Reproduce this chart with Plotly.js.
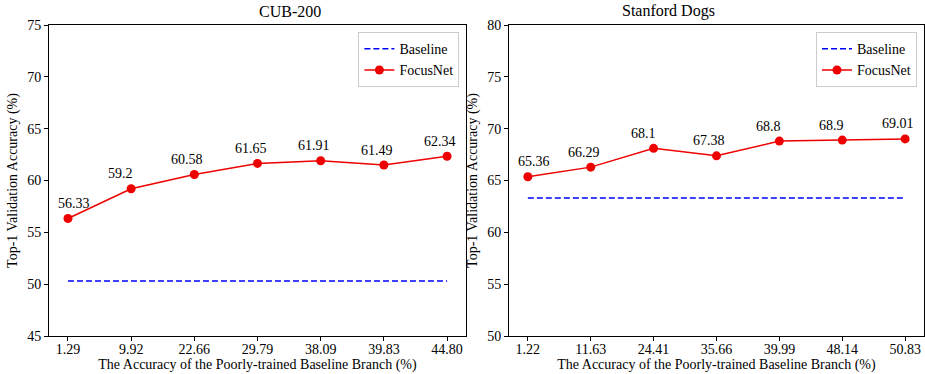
<!DOCTYPE html>
<html><head><meta charset="utf-8">
<script src="https://cdn.plot.ly/plotly-3.0.1.min.js"></script>
<style>body{margin:0;padding:0;background:#fff}#c{width:925px;height:374px}</style>
</head><body><div id="c"></div>
<script>
const cubX = ["1.29","9.92","22.66","29.79","38.09","39.83","44.80"];
const cubFocus = [56.33,59.2,60.58,61.65,61.91,61.49,62.34];
const cubBaseline = 50.3;
const dogX = ["1.22","11.63","24.41","35.66","39.99","48.14","50.83"];
const dogFocus = [65.36,66.29,68.1,67.38,68.8,68.9,69.01];
const dogBaseline = 63.3;
const titles = ["CUB-200","Stanford Dogs"];
const xTitle = "The Accuracy of the Poorly-trained Baseline Branch (%)";
const yTitle = "Top-1 Validation Accuracy (%)";

const F = "Liberation Serif, Times New Roman, serif";
const traces = [];
const annotations = [];
function addPanel(xs, vals, base, xa, ya, leg){
  traces.push({x: xs, y: xs.map(()=>base), xaxis: xa, yaxis: ya, mode:'lines', name:'Baseline',
    line:{color:'#0000ff', dash:'6px,3px', width:1.5}, legend: leg});
  traces.push({x: xs, y: vals, xaxis: xa, yaxis: ya, mode:'lines+markers', name:'FocusNet',
    line:{color:'#ee0000', width:1.5}, marker:{color:'#ee0000', size:9}, legend: leg});
  xs.forEach((c,i)=>{
    annotations.push({x:i, y:vals[i], xref: xa, yref: ya, text:String(vals[i]), showarrow:false,
      xanchor:'left', xshift: i===0 ? -12 : -25, yshift:15, font:{family:F, size:14, color:'#000'}});
  });
}
addPanel(cubX, cubFocus, cubBaseline, 'x', 'y', 'legend');
addPanel(dogX, dogFocus, dogBaseline, 'x2', 'y2', 'legend2');

titles.forEach((t,i)=>{
  annotations.push({text:t, xref:'paper', yref:'paper', x: i===0 ? 0.238 : 0.763,
    y: 1.0, yshift:3, yanchor:'bottom', showarrow:false, font:{family:F, size:16, color:'#000'}});
});

function xax(dom){
  return {domain: dom, type:'category', range:[-0.3,6.3], showline:true, mirror:true, linecolor:'#000', linewidth:1,
    ticks:'outside', ticklen:4, tickcolor:'#000', showgrid:false, zeroline:false, ticklabelstandoff:-4,
    tickfont:{family:F, size:14, color:'#000'},
    title:{text:xTitle, font:{family:F, size:14, color:'#000'}, standoff:2}};
}
function yax(r, anchor){
  return {domain:[0,1], range:r, dtick:5, anchor: anchor, showline:true, mirror:true, linecolor:'#000', linewidth:1,
    ticks:'outside', ticklen:4, tickcolor:'#000', showgrid:false, zeroline:false,
    tickfont:{family:F, size:14, color:'#000'},
    title:{text:yTitle, font:{family:F, size:14, color:'#000'}, standoff:6}};
}
const legStyle = (x)=>({x:x, y:0.977, xanchor:'right', yanchor:'top', bgcolor:'rgba(255,255,255,0.8)',
  bordercolor:'#cccccc', borderwidth:1, font:{family:F, size:14, color:'#000'}, tracegroupgap:0});
const layout = {
  width:925, height:374, margin:{l:49,r:1,t:25,b:38}, paper_bgcolor:'#fff', plot_bgcolor:'#fff',
  showlegend:true,
  xaxis: Object.assign(xax([0,0.4766]), {anchor:'y'}),
  yaxis: yax([45,75],'x'),
  xaxis2: Object.assign(xax([0.5257,1]), {anchor:'y2'}),
  yaxis2: yax([50,80],'x2'),
  legend: legStyle(0.469),
  legend2: legStyle(0.992),
  annotations: annotations
};
Plotly.newPlot('c', traces, layout, {displayModeBar:false, staticPlot:true});
</script></body></html>
